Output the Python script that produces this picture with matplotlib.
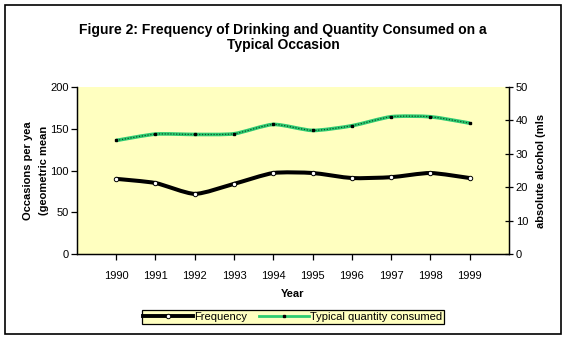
import numpy as np
import matplotlib
matplotlib.use('Agg')
import matplotlib.pyplot as plt
from matplotlib.path import Path
from matplotlib.patches import PathPatch, Rectangle
from matplotlib.lines import Line2D

plt.rcParams['font.family'] = ['Liberation Sans', 'DejaVu Sans']

# Data
years = [1990, 1991, 1992, 1993, 1994, 1995, 1996, 1997, 1998, 1999]
frequency = [90, 85, 72, 84, 97, 97, 91, 92, 97, 91]           # occasions per year (left axis)
quantity = [34.0, 35.9, 35.8, 36.0, 38.8, 37.0, 38.4, 41.1, 41.1, 39.2]  # absolute alcohol mls (right axis)

plot_bg = '#FFFFC0'
green = '#2ECC71'


def smooth_path(xs, ys, k=9.0):
    # Excel-style smoothed line drawn as Bezier segments through the data points
    xs = np.asarray(xs, float)
    ys = np.asarray(ys, float)
    verts = [(xs[0], ys[0])]
    codes = [Path.MOVETO]
    n = len(xs)
    for i in range(n - 1):
        p0 = (xs[max(i - 1, 0)], ys[max(i - 1, 0)])
        p1 = (xs[i], ys[i])
        p2 = (xs[i + 1], ys[i + 1])
        p3 = (xs[min(i + 2, n - 1)], ys[min(i + 2, n - 1)])
        c1 = (p1[0] + (p2[0] - p0[0]) / k, p1[1] + (p2[1] - p0[1]) / k)
        c2 = (p2[0] - (p3[0] - p1[0]) / k, p2[1] - (p3[1] - p1[1]) / k)
        verts += [c1, c2, p2]
        codes += [Path.CURVE4] * 3
    return Path(verts, codes)


fig = plt.figure(figsize=(5.66, 3.4), dpi=100)
fig.patches.append(Rectangle((0.0088, 0.0176), 0.982, 0.968, transform=fig.transFigure,
                             fill=False, edgecolor='black', linewidth=1.2))

ax = fig.add_axes([0.136, 0.253, 0.763, 0.491])
ax.set_facecolor(plot_bg)
ax2 = ax.twinx()

# Frequency line (left axis)
ax.add_patch(PathPatch(smooth_path(years, frequency), fill=False, edgecolor='black',
                       linewidth=2.9, capstyle='butt', joinstyle='round', zorder=3))
ax.plot(years, frequency, linestyle='none', marker='o', markersize=3.2,
        markerfacecolor='white', markeredgecolor='black', markeredgewidth=0.7, zorder=4)

# Typical quantity line (right axis)
ax2.add_patch(PathPatch(smooth_path(years, quantity), fill=False, edgecolor=green,
                        linewidth=2.6, capstyle='butt', zorder=3))
ax2.add_patch(PathPatch(smooth_path(years, quantity), fill=False, edgecolor='#0B4F2A',
                        linewidth=0.9, linestyle=(0, (1, 1.3)), zorder=3))
ax2.plot(years, quantity, linestyle='none', marker='s', markersize=1.8,
         color='black', zorder=4)

ax.set_xlim(1989, 2000)
ax.set_xticks(years)
ax.set_xticklabels([str(y) for y in years], fontsize=8)
ax.set_ylim(0, 200)
ax.set_yticks(range(0, 201, 50))
ax2.set_ylim(0, 50)
ax2.set_yticks(range(0, 51, 10))

for a in (ax, ax2):
    a.spines['top'].set_visible(False)
    for s in a.spines.values():
        s.set_linewidth(0.9)
ax.tick_params(axis='y', direction='out', length=4, width=0.9, labelsize=8, pad=2)
ax.tick_params(axis='x', direction='out', length=4, width=0.9, labelsize=8, pad=8)
ax2.tick_params(axis='y', direction='inout', length=6, width=0.9, labelsize=8, pad=2)

ax.set_ylabel('Occasions per yea\n(geometric mean', fontsize=8, fontweight='bold', labelpad=1,
              linespacing=1.7)
ax2.set_ylabel('absolute alcohol (mls', fontsize=8, fontweight='bold', labelpad=6)
ax.set_xlabel('Year', fontsize=8, fontweight='bold', labelpad=6)

fig.text(0.5, 0.89, 'Figure 2: Frequency of Drinking and Quantity Consumed on a\nTypical Occasion',
         ha='center', va='center', fontsize=10, fontweight='bold', linespacing=1.15)

handles = [
    Line2D([], [], color='black', linewidth=2.8, marker='o', markersize=3.2,
           markerfacecolor='white', markeredgecolor='black', markeredgewidth=0.7),
    Line2D([], [], color=green, linewidth=2.0, marker='s', markersize=1.8,
           markerfacecolor='black', markeredgecolor='black'),
]
leg = fig.legend(handles, ['Frequency', 'Typical quantity consumed'], loc='center',
                 bbox_to_anchor=(0.517, 0.068), ncol=2, fontsize=8, frameon=True,
                 fancybox=False, framealpha=1, handlelength=4.5, handletextpad=0.1,
                 columnspacing=1.0, borderpad=0.15, borderaxespad=0)
leg.get_frame().set_facecolor(plot_bg)
leg.get_frame().set_edgecolor('black')
leg.get_frame().set_linewidth(0.9)

fig.savefig('out.png', dpi=100, facecolor='white')
